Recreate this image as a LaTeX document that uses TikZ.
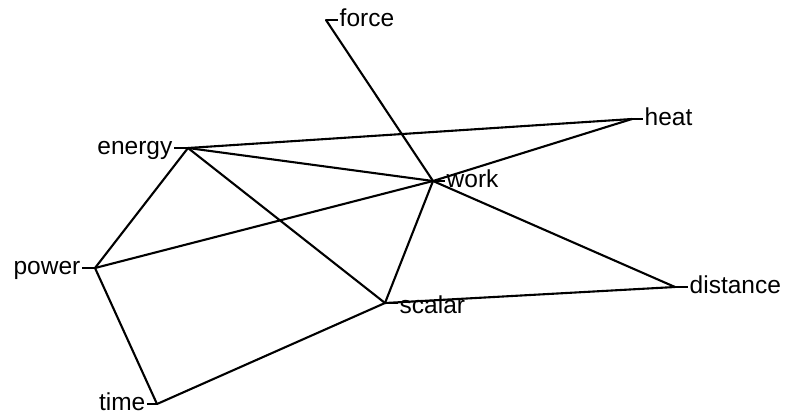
\documentclass[tikz,border=0pt]{standalone}
\usepackage{fontspec}
\setmainfont{Liberation Sans}
\begin{document}
\begin{tikzpicture}[x=1bp,y=-1bp,
  edge/.style={line width=2.1bp, line cap=round, line join=round},
  tickln/.style={line width=1.7bp},
  rl/.style={anchor=base west, inner sep=0pt, xshift=1.5bp, yshift=-6.3bp, font=\fontsize{24.5bp}{28bp}\selectfont},
  ll/.style={anchor=base east, inner sep=0pt, xshift=-1.5bp, yshift=-6.3bp, font=\fontsize{24.5bp}{28bp}\selectfont}]
\useasboundingbox (0,0) rectangle (791,417);
\coordinate (force) at (326,20);
\coordinate (energy) at (188,148);
\coordinate (work) at (433,181);
\coordinate (power) at (95,268);
\coordinate (scalar) at (385,303);
\coordinate (time) at (157,404);
\coordinate (heat) at (632,119);
\coordinate (distance) at (675,287);
% edges
\draw[edge] (force) -- (work);
\draw[edge] (energy) -- (heat);
\draw[edge] (energy) -- (work);
\draw[edge] (energy) -- (scalar);
\draw[edge] (energy) -- (power);
\draw[edge] (power) -- (work);
\draw[edge] (work) -- (heat);
\draw[edge] (work) -- (scalar);
\draw[edge] (work) -- (distance);
\draw[edge] (scalar) -- (distance);
\draw[edge] (power) -- (time);
\draw[edge] (time) -- (scalar);
% ticks and labels
\draw[tickln] (force) -- ++(12,0) coordinate (forceT);
\node[rl] (forceL) at (forceT) {force};
\draw[tickln] (work) -- ++(12,0) coordinate (workT);
\node[rl] (workL) at (workT) {work};
\draw[tickln] (scalar) -- ++(13,0) coordinate (scalarT);
\node[rl, yshift=-4bp] (scalarL) at (scalarT) {scalar};
\draw[tickln] (heat) -- ++(11,0) coordinate (heatT);
\node[rl] (heatL) at (heatT) {heat};
\draw[tickln] (distance) -- ++(13,0) coordinate (distanceT);
\node[rl] (distanceL) at (distanceT) {distance};
\draw[tickln] (energy) -- ++(-14,0) coordinate (energyT);
\node[ll] (energyL) at (energyT) {energy};
\draw[tickln] (power) -- ++(-13,0) coordinate (powerT);
\node[ll] (powerL) at (powerT) {power};
\draw[tickln] (time) -- ++(-10,0) coordinate (timeT);
\node[ll] (timeL) at (timeT) {time};
\end{tikzpicture}
\end{document}
